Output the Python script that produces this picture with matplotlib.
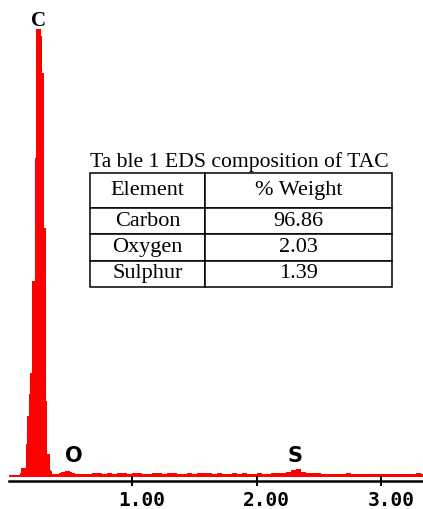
import numpy as np
import matplotlib
matplotlib.use("Agg")
import matplotlib.pyplot as plt
from matplotlib.transforms import ScaledTranslation

# EDS spectrum: 0.01 keV channels from 0.10 to 0.60 keV, then 0.04 keV channels up to 3.36 keV
fine_counts = [30, 80, 80, 80, 80, 320, 600, 820, 1030, 1030,
               1950, 1950, 3180, 4470, 4470, 4470, 4470, 4400, 4030, 2480,
               2480, 750, 220, 220, 60, 50, 15, 12, 15, 18,
               18, 25, 30, 35, 38, 40, 42, 45, 45, 42,
               40, 35, 30, 25, 20, 18, 15, 18, 20, 18]
coarse_counts = [20, 18, 22, 25, 20, 24, 18, 22, 26, 20,
                 22, 25, 20, 18, 24, 22, 20, 26, 22, 20,
                 18, 24, 20, 22, 26, 24, 20, 22, 18, 20,
                 22, 20, 24, 18, 20, 22, 18, 20, 22, 25,
                 28, 35, 55, 70, 40, 28, 22, 25, 20, 18,
                 20, 15, 18, 22, 15, 18, 14, 20, 16, 14,
                 15, 18, 14, 16, 20, 14, 18, 22, 16]

peak_names = ["C", "O", "S"]
peak_energy = [0.25, 0.53, 2.31]

elements = ["Carbon", "Oxygen", "Sulphur"]
weight_pct = ["96.86", "2.03", "1.39"]

edges = np.concatenate([0.10 + 0.01 * np.arange(51),
                        0.60 + 0.04 * np.arange(1, 70)])
counts = np.array(fine_counts + coarse_counts)

W, H = 423, 509
fig = plt.figure(figsize=(W / 100, H / 100), dpi=100)
ax = fig.add_axes([9 / W, 28 / H, 1 - 9 / W, 481 / H])

ax.stairs(counts, edges, fill=True, color="#ff0000", lw=0.6)
ax.axhline(0, color="#ff0000", lw=1.4, zorder=1)

ax.set_xlim(0.012, 3.337)
ax.set_ylim(-55, 4760)
for s in ["left", "right", "top"]:
    ax.spines[s].set_visible(False)
ax.spines["bottom"].set_linewidth(1.8)
ax.set_yticks([])
ax.set_xticks([1, 2, 3])
ax.set_xticklabels(["1.00", "2.00", "3.00"], fontfamily="DejaVu Sans Mono",
                   fontweight="bold", fontsize=14)
ax.tick_params(axis="x", direction="inout", length=7, width=1.4, pad=4)
for lbl in ax.get_xticklabels():
    lbl.set_transform(lbl.get_transform() + ScaledTranslation(0.10, 0, fig.dpi_scale_trans))

# element markers above each peak
label_y = [4550, 195, 195]
ax.text(peak_energy[0], label_y[0], peak_names[0], ha="center", va="center",
        fontsize=15, fontweight="bold", fontfamily="Liberation Serif", zorder=5)
for name, e, y in zip(peak_names[1:], peak_energy[1:], label_y[1:]):
    ax.text(e, y, name, ha="center", va="center", fontsize=15,
            fontweight="heavy", fontfamily="DejaVu Sans")

# composition table
fig.text(239.5 / W, 1 - 167 / H, "Ta ble 1 EDS composition of TAC", ha="center",
         va="baseline", fontsize=15.6, fontfamily="Liberation Serif")
tax = fig.add_axes([90 / W, 1 - 287 / H, (392 - 90) / W, (287 - 173) / H])
tax.axis("off")
tbl = tax.table(cellText=[[e, w] for e, w in zip(elements, weight_pct)],
                colLabels=["Element", "% Weight"], cellLoc="center",
                colWidths=[115 / 302, 187 / 302], bbox=[0, 0, 1, 1])
tbl.auto_set_font_size(False)
for (r, c), cell in tbl.get_celld().items():
    cell.set_linewidth(1.1)
    cell.set_edgecolor("black")
    cell.set_height(35 if r == 0 else 26.3)
    cell.get_text().set_fontsize(16)
    cell.get_text().set_fontfamily("Liberation Serif")

fig.savefig("out.png", dpi=100)
